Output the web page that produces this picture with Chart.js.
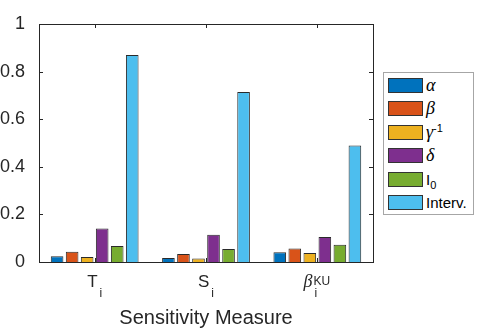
<!DOCTYPE html>
<html>
<head>
<meta charset="utf-8">
<script src="https://cdn.jsdelivr.net/npm/chart.js@4/dist/chart.umd.min.js"></script>
<style>
  html, body { margin: 0; padding: 0; background: #fff; }
  #wrap { position: relative; width: 498px; height: 332px; }
  #legend { position: absolute; left: 383px; top: 72px; width: 91px; height: 143px;
            border: 1px solid #a6a6a6; background: #fff; box-sizing: border-box; }
  .row { position: absolute; left: 4px; height: 16px; display: flex; align-items: center; }
  .sw { width: 35px; height: 15px; border: 1px solid #333; box-sizing: border-box; }
  .lab { margin-left: 3px; font-family: "Liberation Sans", Arial, sans-serif; font-size: 15px; color: #000; white-space: nowrap; }
  .gr { font-family: "Liberation Serif", "DejaVu Serif", serif; font-style: italic; font-size: 18px; }
  sup, sub { font-size: 11px; line-height: 0; }
</style>
</head>
<body>
<div id="wrap">
  <canvas id="c" width="498" height="332"></canvas>
  <div id="legend"></div>
</div>
<script>
// ---- data ----
const categories = ['T_i', 'S_i', 'β_i^KU'];
const catMain = ['T', 'S', 'β'];
const catSub = ['i', 'i', 'i'];
const catSup = ['', '', 'KU'];
const seriesNames = ['alpha', 'beta', 'gamma^-1', 'delta', 'I_0', 'Interv.'];
const alphaVals  = [0.024, 0.017, 0.041];
const betaVals   = [0.043, 0.034, 0.057];
const gammaVals  = [0.021, 0.015, 0.038];
const deltaVals  = [0.141, 0.115, 0.105];
const i0Vals     = [0.067, 0.055, 0.073];
const intervVals = [0.870, 0.714, 0.489];
const yTicks = [0, 0.2, 0.4, 0.6, 0.8, 1];

const colors = ['#0072BD', '#D95319', '#EDB120', '#7E2F8E', '#77AC30', '#4DBEEE'];
const legendHTML = [
  '<span class="gr">α</span>',
  '<span class="gr">β</span>',
  '<span class="gr">γ</span><sup>-1</sup>',
  '<span class="gr">δ</span>',
  'I<sub>0</sub>',
  'Interv.'
];
const allVals = [alphaVals, betaVals, gammaVals, deltaVals, i0Vals, intervVals];

const datasets = allVals.map((v, k) => ({
  label: seriesNames[k],
  data: v,
  backgroundColor: colors[k],
  borderColor: '#2a2a2a',
  borderWidth: 1,
  categoryPercentage: 0.81,
  barPercentage: 0.84
}));

const AXIS = '#262626';
const boxPlugin = {
  id: 'boxPlugin',
  afterDraw(chart) {
    const { ctx, chartArea: a, scales } = chart;
    ctx.save();
    ctx.strokeStyle = AXIS;
    ctx.lineWidth = 1;
    ctx.strokeRect(Math.round(a.left) + 0.5, Math.round(a.top) + 0.5,
                   Math.round(a.right - a.left), Math.round(a.bottom - a.top));
    ctx.beginPath();
    yTicks.forEach(t => {
      const y = Math.round(scales.y.getPixelForValue(t)) + 0.5;
      ctx.moveTo(a.left, y); ctx.lineTo(a.left + 4, y);
      ctx.moveTo(a.right, y); ctx.lineTo(a.right - 4, y);
    });
    categories.forEach((c, i) => {
      const x = Math.round(scales.x.getPixelForValue(i)) + 0.5;
      ctx.moveTo(x, a.bottom); ctx.lineTo(x, a.bottom - 4);
      ctx.moveTo(x, a.top); ctx.lineTo(x, a.top + 4);
    });
    ctx.stroke();
    ctx.fillStyle = '#262626';
    ctx.textBaseline = 'alphabetic';
    categories.forEach((c, i) => {
      const cx = scales.x.getPixelForValue(i);
      const mainFont = (catMain[i] === 'β' ? 'italic 18px "Liberation Serif", serif' : '17px "Liberation Sans", Arial, sans-serif');
      ctx.font = mainFont;
      const mw = ctx.measureText(catMain[i]).width;
      ctx.font = '12px "Liberation Sans", Arial, sans-serif';
      const sw = Math.max(ctx.measureText(catSub[i]).width, ctx.measureText(catSup[i]).width);
      const x0 = cx - (mw + sw + 2) / 2;
      ctx.font = mainFont;
      ctx.textAlign = 'left';
      ctx.fillText(catMain[i], x0, 287);
      ctx.font = '12px "Liberation Sans", Arial, sans-serif';
      ctx.fillText(catSub[i], x0 + mw + 2, 297);
      if (catSup[i]) ctx.fillText(catSup[i], x0 + mw + 1, 285);
    });
    ctx.restore();
  }
};

const chart = new Chart(document.getElementById('c'), {
  type: 'bar',
  data: { labels: categories, datasets },
  options: {
    responsive: false,
    animation: false,
    devicePixelRatio: 1,
    layout: { padding: { top: 24, right: 125, left: 0, bottom: 0 } },
    plugins: { legend: { display: false }, tooltip: { enabled: false } },
    scales: {
      x: {
        grid: { display: false },
        border: { display: false },
        ticks: { display: true, color: 'rgba(0,0,0,0)', font: { size: 17 } },
        title: { display: true, text: 'Sensitivity Measure', color: '#262626',
                 font: { family: '"Liberation Sans", Arial, sans-serif', size: 20 },
                 padding: { top: 0, bottom: 2 } },
        afterFit(s) { s.height = 70; }
      },
      y: {
        min: 0, max: 1,
        grid: { display: false },
        border: { display: false },
        afterBuildTicks(s) { s.ticks = yTicks.map(v => ({ value: v })); },
        ticks: { color: '#262626', padding: 6,
                 font: { family: '"Liberation Sans", Arial, sans-serif', size: 18 },
                 callback: v => String(v) },
        afterFit(s) { s.width = 39; }
      }
    }
  },
  plugins: [boxPlugin]
});

const leg = document.getElementById('legend');
chart.data.datasets.forEach((ds, k) => {
  const row = document.createElement('div');
  row.className = 'row';
  row.style.top = (4 + k * 23.5) + 'px';
  row.innerHTML = '<div class="sw" style="background:' + ds.backgroundColor + '"></div><span class="lab">' + legendHTML[k] + '</span>';
  leg.appendChild(row);
});
</script>
</body>
</html>
